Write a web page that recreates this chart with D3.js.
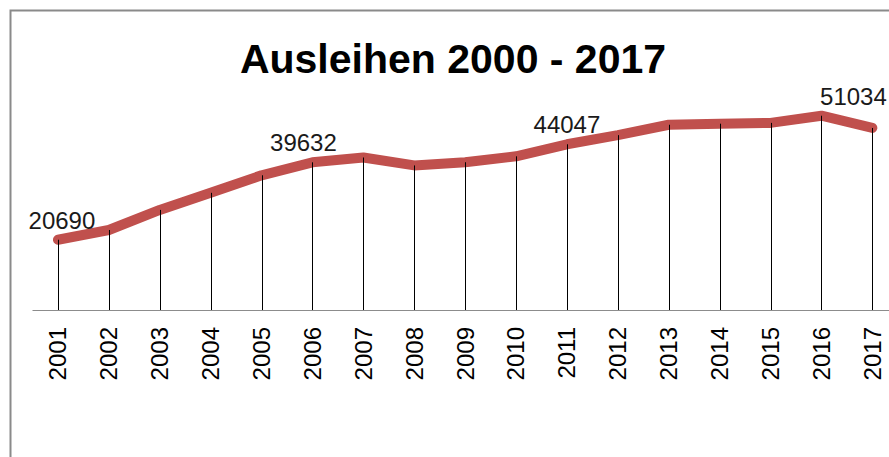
<!DOCTYPE html>
<html><head><meta charset="utf-8">
<script src="https://cdn.jsdelivr.net/npm/d3@7"></script>
<style>body{margin:0;background:#fff}svg{display:block}</style>
</head><body>
<svg id="c" width="889" height="457"></svg>
<script>
const chartTitle = 'Ausleihen 2000 - 2017';
const years = ['2001','2002','2003','2004','2005','2006','2007','2008','2009','2010','2011','2012','2013','2014','2015','2016','2017'];
const ausleihen = [20690, 23070, 27990, 32170, 36460, 39632, 40810, 38870, 39650, 41100, 44047, 46280, 48820, 49080, 49280, 51034, 48040];
const labeledYears = ['2001','2006','2011','2016'];
const yDomain = [3500, 55000];

const W = 889, H = 457;
const FONT = '"Liberation Sans", Arial, sans-serif';
const labelDx = {'2001': 4, '2006': -9, '2011': 0, '2016': 32};

const svg = d3.select('#c');
svg.append('rect').attr('width', W).attr('height', H).attr('fill', '#fff');
svg.append('rect')
  .attr('x', 10.5).attr('y', 10.5).attr('width', W + 40).attr('height', H + 40)
  .attr('fill', '#fff').attr('stroke', '#8a8a8a').attr('stroke-width', 2);

const x = d3.scaleBand().domain(years).range([32.5, 897.8]);
const y = d3.scaleLinear().domain(yDomain).range([310, 99.5]);
const cx = d => x(d) + x.bandwidth() / 2;
const data = years.map((yr, i) => ({yr, v: ausleihen[i]}));

// title
svg.append('text')
  .attr('x', 453).attr('y', 73)
  .attr('text-anchor', 'middle')
  .attr('font-family', FONT).attr('font-weight', 'bold').attr('font-size', 41)
  .attr('fill', '#000')
  .text(chartTitle);

// x axis
const ax = svg.append('g').attr('transform', 'translate(0,310)')
  .call(d3.axisBottom(x).tickSize(0));
ax.select('.domain').attr('stroke', '#8c8c8c').attr('stroke-width', 1.2).attr('d', 'M32.5,0.5H' + (W + 10));
ax.selectAll('.tick text')
  .attr('transform', 'rotate(-90)')
  .attr('text-anchor', 'end')
  .attr('x', -17).attr('y', 0).attr('dy', '0.35em')
  .attr('font-family', FONT).attr('font-size', 24).attr('fill', '#000');

// line
svg.append('path').datum(data)
  .attr('fill', 'none').attr('stroke', '#C0504D').attr('stroke-width', 10)
  .attr('stroke-linejoin', 'round').attr('stroke-linecap', 'round')
  .attr('d', d3.line().x(d => cx(d.yr)).y(d => y(d.v)));

// drop lines
svg.append('g').selectAll('line').data(data).join('line')
  .attr('x1', d => Math.round(cx(d.yr)) + 0.5).attr('x2', d => Math.round(cx(d.yr)) + 0.5)
  .attr('y1', d => y(d.v)).attr('y2', 310)
  .attr('stroke', '#000').attr('stroke-width', 1);

// data labels
svg.append('g').selectAll('text').data(data.filter(d => labeledYears.includes(d.yr))).join('text')
  .attr('x', d => cx(d.yr) + labelDx[d.yr]).attr('y', d => y(d.v) - 11)
  .attr('text-anchor', 'middle')
  .attr('font-family', FONT).attr('font-size', 24).attr('fill', '#1a1a1a')
  .text(d => d.v);
</script>
</body></html>
